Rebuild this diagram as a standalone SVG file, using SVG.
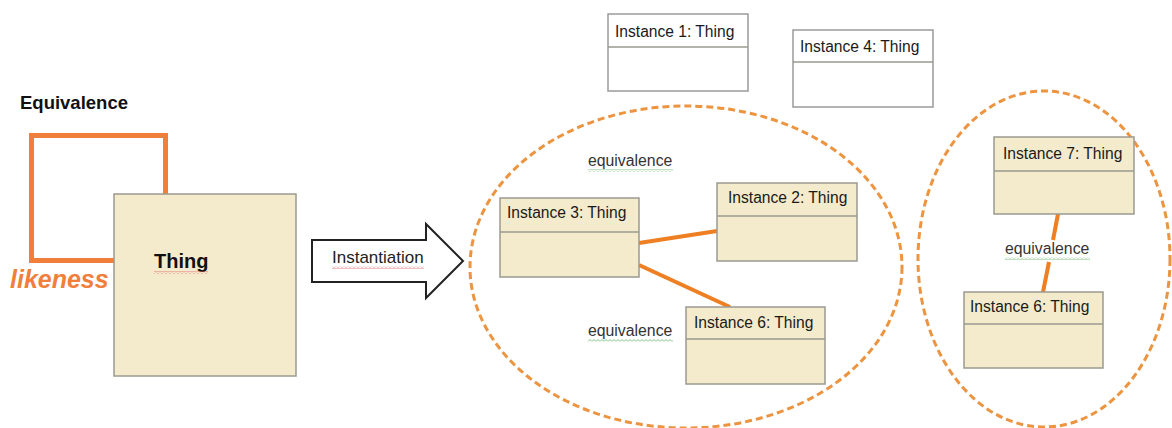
<svg xmlns="http://www.w3.org/2000/svg" width="1172" height="428" viewBox="0 0 1172 428">
<defs>
<pattern id="squigR" width="4" height="3" patternUnits="userSpaceOnUse"><path d="M0,2.5 L2,0.5 L4,2.5" fill="none" stroke="#e06060" stroke-width="0.8"/></pattern>
<pattern id="squigG" width="4" height="3" patternUnits="userSpaceOnUse"><path d="M0,2.5 L2,0.5 L4,2.5" fill="none" stroke="#5cb860" stroke-width="0.8"/></pattern>
</defs>
<style>
.box{fill:#f4ebcc;stroke:#9a9a90;stroke-width:1.5}
.wbox{fill:#ffffff;stroke:#9a9a9a;stroke-width:1.5}
.div{stroke:#9a9a90;stroke-width:1.5}
.lbl{font-family:"Liberation Sans",Arial,sans-serif;font-size:15.6px;fill:#1a1a1a}
.eq{font-family:"Liberation Sans",Arial,sans-serif;font-size:15.8px;fill:#333}
.grp{fill:none;stroke:#ec9440;stroke-width:3;stroke-dasharray:7 4}
.link{stroke:#ee7f22;stroke-width:4;fill:none}
</style>
<rect width="1172" height="428" fill="#ffffff"/>

<g id="equivalence-self">
<rect x="31.5" y="135.5" width="134" height="125" fill="none" stroke="#f07f3c" stroke-width="5"/>
<text x="20" y="109" font-family="Liberation Sans,Arial,sans-serif" font-size="18.5" font-weight="bold" fill="#111">Equivalence</text>
<text x="10" y="288" font-family="Liberation Sans,Arial,sans-serif" font-size="25" font-weight="bold" font-style="italic" fill="#f07f3c">likeness</text>
</g>

<g id="thing">
<rect x="114" y="194" width="182" height="182" class="box"/>
<text x="154" y="268" font-family="Liberation Sans,Arial,sans-serif" font-size="20" font-weight="bold" fill="#111">Thing</text>
<rect x="154" y="271" width="54" height="3" fill="url(#squigR)"/>
</g>

<g id="instantiation">
<path d="M312,240 L426,240 L426,224 L463,261 L426,298 L426,282 L312,282 Z" fill="#ffffff" stroke="#222" stroke-width="2"/>
<text x="332" y="263" font-family="Liberation Sans,Arial,sans-serif" font-size="17" fill="#222">Instantiation</text>
<rect x="332" y="266" width="92" height="3" fill="url(#squigR)"/>
</g>

<g id="group1">
<ellipse cx="686" cy="267" rx="216" ry="161" class="grp"/>
</g>
<g id="group2">
<ellipse cx="1044" cy="259" rx="126" ry="168" class="grp"/>
</g>

<g id="connectors">
<line x1="639" y1="243" x2="717" y2="231" class="link"/>
<line x1="639" y1="265" x2="730" y2="307" class="link"/>
<line x1="1058" y1="214" x2="1053" y2="240" class="link"/>
<line x1="1049" y1="262" x2="1043" y2="292" class="link"/>
</g>

<g id="eq-label-1">
<text x="588" y="166" class="eq">equivalence</text>
<rect x="588" y="169" width="85" height="3" fill="url(#squigG)"/>
</g>
<g id="eq-label-2">
<text x="588" y="336" class="eq">equivalence</text>
<rect x="588" y="339" width="85" height="3" fill="url(#squigG)"/>
</g>
<g id="eq-label-3">
<text x="1005" y="254" class="eq">equivalence</text>
<rect x="1005" y="257" width="85" height="3" fill="url(#squigG)"/>
</g>

<g id="instance1">
<rect x="608" y="14" width="140" height="77" class="wbox"/>
<line x1="608" y1="47" x2="748" y2="47" class="div"/>
<text x="615" y="37" class="lbl">Instance 1: Thing</text>
</g>
<g id="instance4">
<rect x="793" y="30" width="140" height="77" class="wbox"/>
<line x1="793" y1="62" x2="933" y2="62" class="div"/>
<text x="800" y="52" class="lbl">Instance 4: Thing</text>
</g>
<g id="instance3">
<rect x="500" y="198" width="139" height="79" class="box"/>
<line x1="500" y1="232" x2="639" y2="232" class="div"/>
<text x="507" y="218" class="lbl">Instance 3: Thing</text>
</g>
<g id="instance2">
<rect x="717" y="183" width="140" height="78" class="box"/>
<line x1="717" y1="216" x2="857" y2="216" class="div"/>
<text x="728" y="203" class="lbl">Instance 2: Thing</text>
</g>
<g id="instance6a">
<rect x="686" y="307" width="139" height="77" class="box"/>
<line x1="686" y1="339" x2="825" y2="339" class="div"/>
<text x="694" y="328" class="lbl">Instance 6: Thing</text>
</g>
<g id="instance7">
<rect x="994" y="137" width="140" height="77" class="box"/>
<line x1="994" y1="171" x2="1134" y2="171" class="div"/>
<text x="1003" y="159" class="lbl">Instance 7: Thing</text>
</g>
<g id="instance6b">
<rect x="964" y="292" width="139" height="76" class="box"/>
<line x1="964" y1="324" x2="1103" y2="324" class="div"/>
<text x="970" y="312" class="lbl">Instance 6: Thing</text>
</g>
</svg>
